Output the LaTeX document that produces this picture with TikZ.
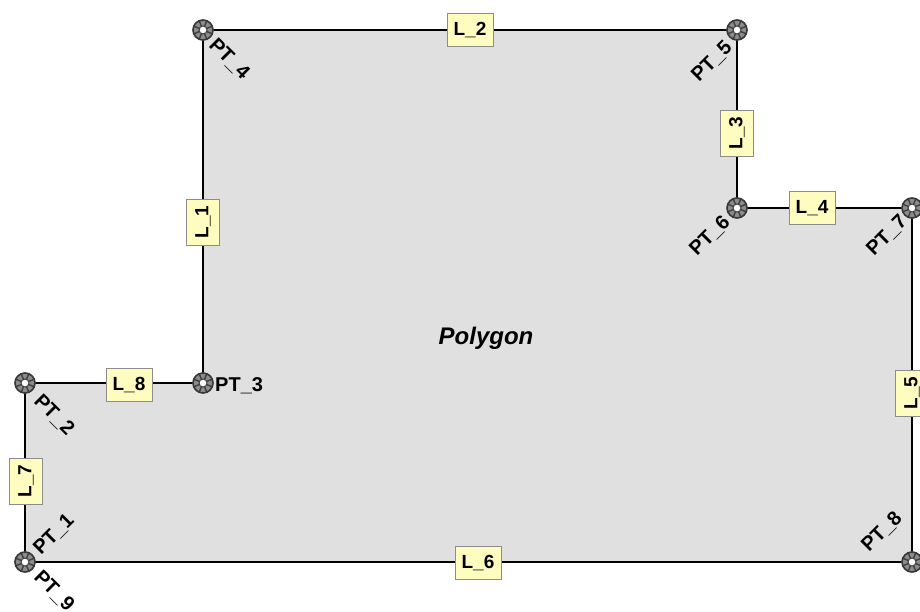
\documentclass[tikz,border=0pt]{standalone}
\usepackage{fontspec}
\setmainfont{Liberation Sans}
\begin{document}
\begin{tikzpicture}[x=1pt,y=-1pt,
  polyfill/.style={fill=black!12},
  polyedge/.style={draw=black, line width=2.6pt},
  linelbl/.style={draw=black!45, line width=0.8pt, fill=yellow!25!white, font=\fontsize{19}{21}\selectfont\bfseries,
    minimum width=46pt, minimum height=33pt, inner sep=0pt},
  ptlbl/.style={font=\fontsize{20}{22}\selectfont\bfseries, inner sep=0pt},
  ptmark/.pic={
    \fill[black!45] (0,0) circle (10.5pt);
    \foreach \a in {22.5,67.5,...,337.5} \draw[black!75, line width=1.4pt] (\a:4) -- (\a:10.5);
    \draw[black!78, line width=1.6pt] (0,0) circle (10pt);
    \fill[white] (0,0) circle (4pt);
    \draw[black!75, line width=1pt] (0,0) circle (4pt);
  }]
\useasboundingbox (0,0) rectangle (920,612);
\fill[white] (0,0) rectangle (920,612);
\coordinate (P1) at (25,562);
\coordinate (P2) at (25,383);
\coordinate (P3) at (203,383);
\coordinate (P4) at (203,30);
\coordinate (P5) at (737,30);
\coordinate (P6) at (737,208);
\coordinate (P7) at (912,208);
\coordinate (P8) at (912,562);
\coordinate (P9) at (25,562);
\fill[polyfill] (P1) -- (P2) -- (P3) -- (P4) -- (P5) -- (P6) -- (P7) -- (P8) -- cycle;
\draw[polyedge] (P1) -- (P2);
\draw[polyedge] (P2) -- (P3);
\draw[polyedge] (P3) -- (P4);
\draw[polyedge] (P4) -- (P5);
\draw[polyedge] (P5) -- (P6);
\draw[polyedge] (P6) -- (P7);
\draw[polyedge] (P7) -- (P8);
\draw[polyedge] (P8) -- (P9);
\node[font=\fontsize{24}{26}\selectfont\bfseries\itshape] (poly) at (486,338) {Polygon};
% line labels
\node[linelbl, rotate=90] (L1) at (203,222) {L\_1};
\node[linelbl] (L2) at (470,30) {L\_2};
\node[linelbl, rotate=90] (L3) at (737,133) {L\_3};
\node[linelbl] (L4) at (812,208) {L\_4};
\node[linelbl, rotate=90] (L5) at (912,393) {L\_5};
\node[linelbl] (L6) at (478,563) {L\_6};
\node[linelbl, rotate=90] (L7) at (26,481) {L\_7};
\node[linelbl] (L8) at (129,385) {L\_8};
% markers
\foreach \p in {P1,P2,P3,P4,P5,P6,P7,P8} \pic at (\p) {ptmark};
% point labels
\node[ptlbl, rotate=-45] (T4) at (229,59) {PT\_4};
\node[ptlbl, rotate=45] (T5) at (712,62) {PT\_5};
\node[ptlbl, rotate=45] (T6) at (710,236) {PT\_6};
\node[ptlbl, rotate=45] (T7) at (887,236) {PT\_7};
\node[ptlbl, rotate=-45] (T2) at (54,415) {PT\_2};
\node[ptlbl, rotate=45] (T1) at (54,535) {PT\_1};
\node[ptlbl, rotate=-45] (T9) at (54,591) {PT\_9};
\node[ptlbl, rotate=45] (T8) at (882,532) {PT\_8};
\node[ptlbl, anchor=west] (T3) at (215,386) {PT\_3};
\end{tikzpicture}
\end{document}
